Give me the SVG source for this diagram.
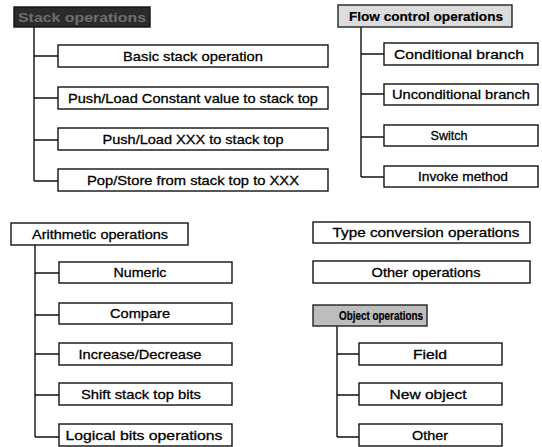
<svg xmlns="http://www.w3.org/2000/svg" width="542" height="447" viewBox="0 0 542 447">
<style>
.box{fill:#ffffff;stroke:#111;stroke-width:1.4}
.hdr1{fill:#2b2b2b;stroke:#111;stroke-width:1.4}
.hdr2{fill:#dcdcdc;stroke:#222;stroke-width:1.4}
.hdr3{fill:#bdbdbd;stroke:#222;stroke-width:1.4}
text{font-family:"Liberation Sans",Arial,sans-serif;font-size:13.5px;fill:#000;stroke:#000;stroke-width:0.3;text-anchor:middle}
text.b{font-weight:bold;stroke-width:0.2}
text.d{fill:#6e6e6e;stroke:none;font-weight:bold}
.ln{fill:none;stroke:#111;stroke-width:1.4}
</style>
<rect width="542" height="447" fill="#ffffff"/>
<g id="connectors">
<path class="ln" d="M34 27V181M34 56H58M34 98H58M34 140H58M34 181H58"/>
<path class="ln" d="M361 27V177M361 54H384M361 94H384M361 137H384M361 177H384"/>
<path class="ln" d="M35 245V437M35 273H59M35 315H59M35 354H59M35 395H59M35 437H59"/>
<path class="ln" d="M337 326V437M337 354H359M337 395H359M337 437H359"/>
</g>
<g id="stack-ops"><rect class="hdr1" x="14" y="7" width="136" height="20"/><text class="d" x="82" y="22" textLength="128" lengthAdjust="spacingAndGlyphs">Stack operations</text></g>
<g id="basic-stack"><rect class="box" x="58" y="45" width="270" height="22"/><text x="193" y="61" textLength="140" lengthAdjust="spacingAndGlyphs">Basic stack operation</text></g>
<g id="push-const"><rect class="box" x="58" y="87" width="270" height="22"/><text x="193" y="103" textLength="250" lengthAdjust="spacingAndGlyphs">Push/Load Constant value to stack top</text></g>
<g id="push-xxx"><rect class="box" x="58" y="128" width="270" height="22"/><text x="193" y="144" textLength="181" lengthAdjust="spacingAndGlyphs">Push/Load XXX to stack top</text></g>
<g id="pop-store"><rect class="box" x="58" y="169" width="270" height="22"/><text x="193" y="185" textLength="212" lengthAdjust="spacingAndGlyphs">Pop/Store from stack top to XXX</text></g>

<g id="flow-ops"><rect class="hdr2" x="338" y="5" width="174" height="22"/><text class="b" x="426" y="21" textLength="154" lengthAdjust="spacingAndGlyphs">Flow control operations</text></g>
<g id="cond-branch"><rect class="box" x="384" y="43" width="154" height="22"/><text x="459" y="59" textLength="130" lengthAdjust="spacingAndGlyphs">Conditional branch</text></g>
<g id="uncond-branch"><rect class="box" x="384" y="84" width="154" height="21"/><text x="461" y="99" textLength="138" lengthAdjust="spacingAndGlyphs">Unconditional branch</text></g>
<g id="switch"><rect class="box" x="384" y="125" width="154" height="21"/><text x="449" y="140" textLength="37" lengthAdjust="spacingAndGlyphs">Switch</text></g>
<g id="invoke"><rect class="box" x="384" y="166" width="154" height="21"/><text x="463" y="181" textLength="90" lengthAdjust="spacingAndGlyphs">Invoke method</text></g>

<g id="arith-ops"><rect class="box" x="11" y="223" width="177" height="22"/><text x="100" y="239" textLength="136" lengthAdjust="spacingAndGlyphs">Arithmetic operations</text></g>
<g id="numeric"><rect class="box" x="59" y="262" width="173" height="21"/><text x="140" y="277" textLength="53" lengthAdjust="spacingAndGlyphs">Numeric</text></g>
<g id="compare"><rect class="box" x="59" y="303" width="173" height="21"/><text x="140" y="318" textLength="60" lengthAdjust="spacingAndGlyphs">Compare</text></g>
<g id="incdec"><rect class="box" x="59" y="343" width="173" height="22"/><text x="140" y="359" textLength="123" lengthAdjust="spacingAndGlyphs">Increase/Decrease</text></g>
<g id="shift"><rect class="box" x="59" y="383" width="173" height="22"/><text x="141" y="399" textLength="120" lengthAdjust="spacingAndGlyphs">Shift stack top bits</text></g>
<g id="logical"><rect class="box" x="59" y="424" width="173" height="22"/><text x="144" y="440" textLength="157" lengthAdjust="spacingAndGlyphs">Logical bits operations</text></g>

<g id="type-conv"><rect class="box" x="313" y="222" width="217" height="21"/><text x="426" y="237" textLength="187" lengthAdjust="spacingAndGlyphs">Type conversion operations</text></g>
<g id="other-ops"><rect class="box" x="313" y="261" width="217" height="22"/><text x="426" y="277" textLength="109" lengthAdjust="spacingAndGlyphs">Other operations</text></g>
<g id="object-ops"><rect class="hdr3" x="313" y="305" width="114" height="21"/><text class="b" x="381" y="320" textLength="84" lengthAdjust="spacingAndGlyphs" style="font-size:12.5px">Object operations</text></g>
<g id="field"><rect class="box" x="359" y="343" width="143" height="22"/><text x="430" y="359" textLength="34" lengthAdjust="spacingAndGlyphs">Field</text></g>
<g id="new-object"><rect class="box" x="359" y="383" width="143" height="22"/><text x="428" y="399" textLength="77" lengthAdjust="spacingAndGlyphs">New object</text></g>
<g id="other"><rect class="box" x="359" y="424" width="143" height="22"/><text x="430" y="440" textLength="36" lengthAdjust="spacingAndGlyphs">Other</text></g>
</svg>
